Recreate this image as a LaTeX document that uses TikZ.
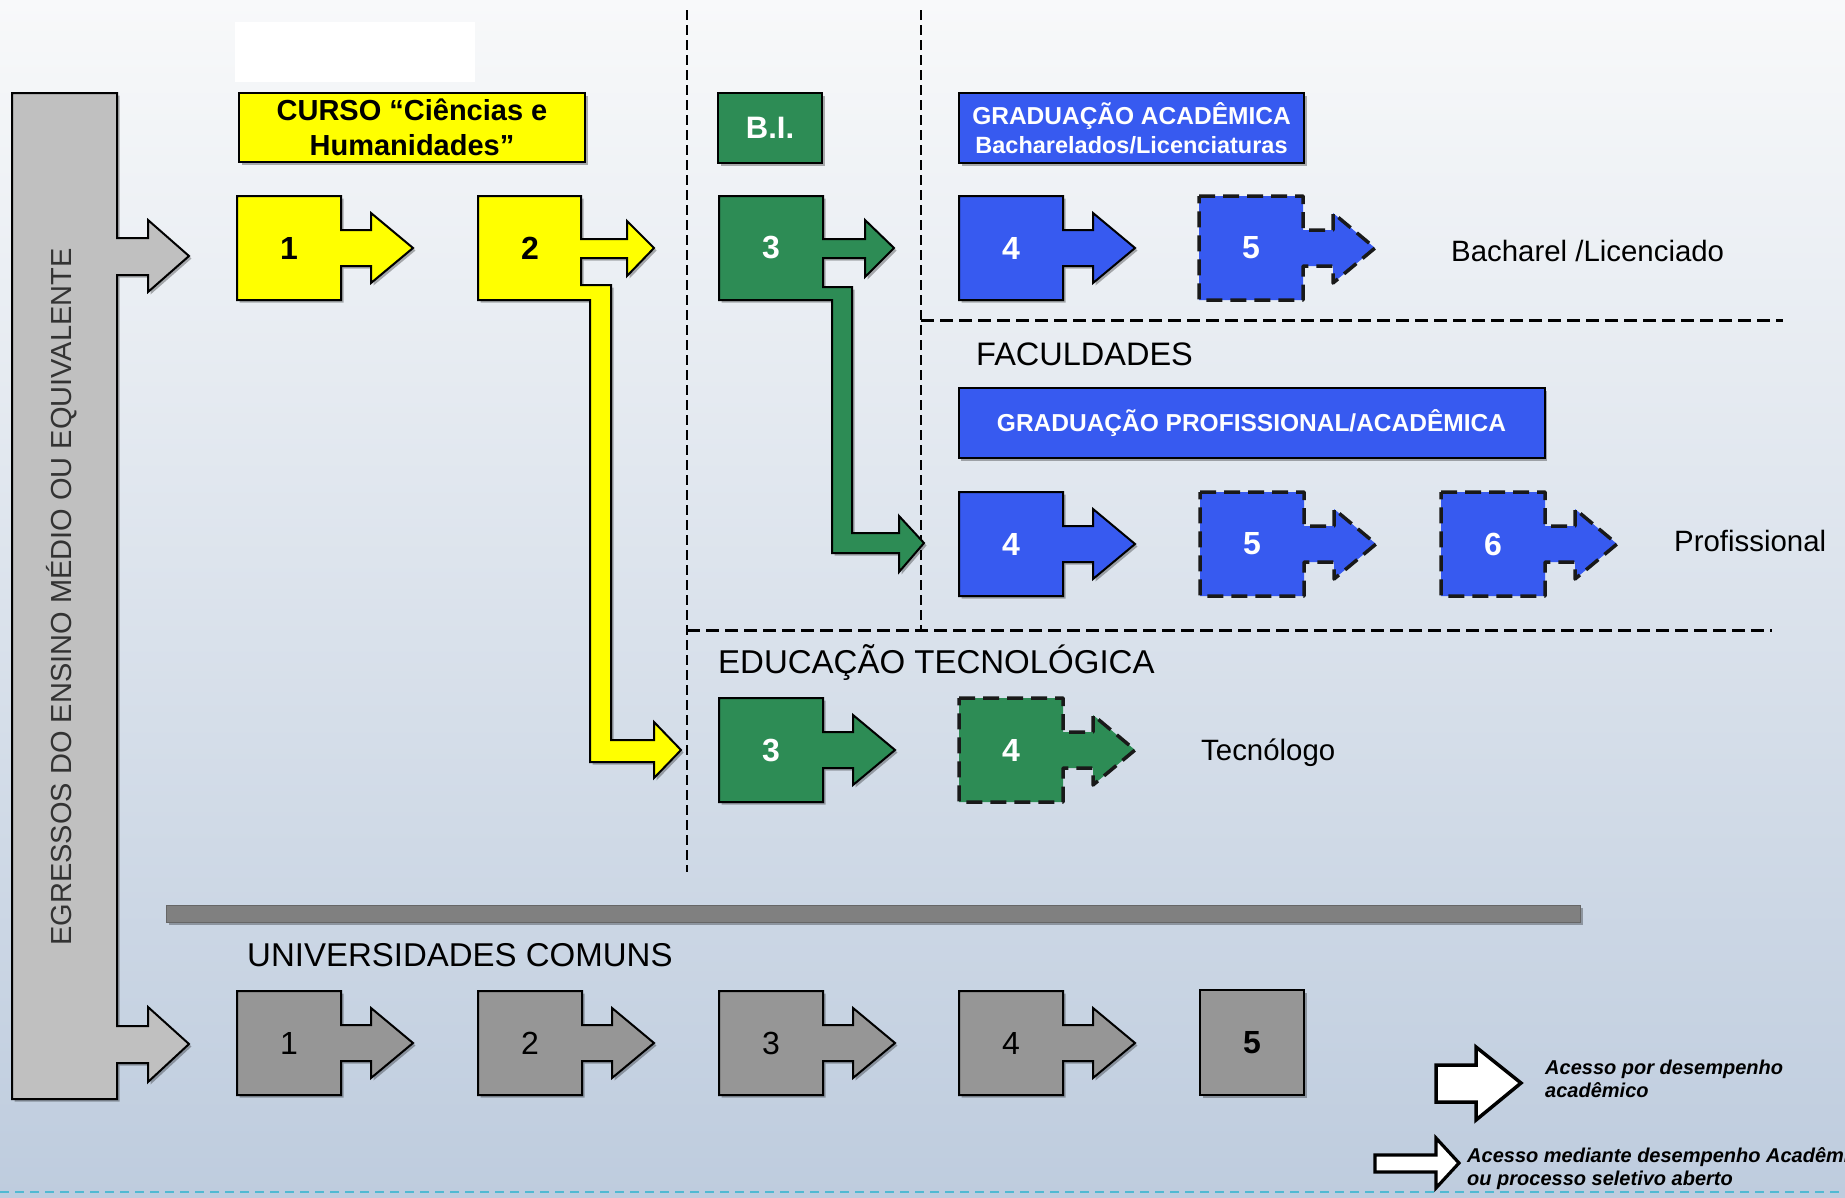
\documentclass[tikz,border=0pt]{standalone}
\usepackage{fontspec}
\setmainfont{Liberation Sans}
\usetikzlibrary{shadows}
\definecolor{ybox}{RGB}{255,255,0}
\definecolor{gbox}{RGB}{45,140,85}
\definecolor{bbox}{RGB}{55,90,240}
\definecolor{lgray}{RGB}{192,192,192}
\definecolor{dgray}{RGB}{150,150,150}
\definecolor{hbar}{RGB}{128,128,128}
\definecolor{bgtop}{RGB}{248,249,250}
\definecolor{bgmid}{RGB}{228,233,240}
\definecolor{bgbot}{RGB}{190,204,222}
\definecolor{cyanline}{RGB}{80,185,210}
\tikzset{
 outl/.style={draw=black, line width=2pt, line join=miter},
 shd/.style={drop shadow={shadow xshift=2.5pt, shadow yshift=-2.5pt, opacity=0.3, fill=black}},
 dsh/.style={draw=black!90, line width=3.5pt, dash pattern=on 16pt off 8pt, line join=round},
 sep/.style={draw=black, line width=2pt, dash pattern=on 10pt off 5pt},
 numb/.style={inner sep=0pt, font=\fontsize{32}{32}\selectfont\bfseries},
 numr/.style={inner sep=0pt, font=\fontsize{32}{32}\selectfont},
 lbl/.style={inner sep=0pt, anchor=base west, font=\fontsize{29.4}{35}\selectfont},
 ttl/.style={inner sep=0pt, anchor=base west, font=\fontsize{33}{40}\selectfont},
 hdr/.style={outl, shd, inner sep=0pt, align=center},
 leg/.style={inner sep=0pt, anchor=west, align=left, font=\fontsize{20}{23.5}\selectfont\bfseries\itshape},
 legarrow/.style={fill=white, draw=black, line width=3.5pt, line join=miter}
}
\newcommand{\sqarrow}[3]{%
 \path[#3] (#1,#2-52) -- ++(104,0) -- ++(0,34) -- ++(30,0) -- ++(0,-17) -- ++(42,35) -- ++(-42,35) -- ++(0,-17) -- ++(-30,0) -- ++(0,34) -- ++(-104,0) -- cycle;}
\begin{document}
\begin{tikzpicture}[x=1pt,y=-1pt]
\useasboundingbox (0,0) rectangle (1845,1197);
\shade[top color=bgtop, middle color=bgmid, bottom color=bgbot] (0,0) rectangle (1845,1197);
\begin{scope}
\clip (0,0) rectangle (1845,1197);
% white patch
\fill[white] (235,22) rectangle (475,82);
% separators
\draw[sep] (687,10) -- (687,872);
\draw[sep] (921,10) -- (921,629);
\draw[sep, line width=3pt, dash pattern=on 13pt off 6pt] (921,320) -- (1783,320);
\draw[sep, line width=3pt, dash pattern=on 13pt off 6pt] (687,630) -- (1772,630);
% left gray bar
\path[outl, shd, fill=lgray] (12,93) -- (117,93) -- (117,238) -- (148,238) -- (148,220) -- (189,256) -- (148,292) -- (148,275) -- (117,275) -- (117,1026) -- (148,1026) -- (148,1007) -- (189,1044) -- (148,1082) -- (148,1063) -- (117,1063) -- (117,1099) -- (12,1099) -- cycle;
\node[rotate=90, inner sep=0pt, text=black!80, font=\fontsize{29}{35}\selectfont] (egr) at (62,597) {EGRESSOS DO ENSINO MÉDIO OU EQUIVALENTE};
% header boxes
\node[hdr, fill=ybox, minimum width=346pt, minimum height=69pt, font=\fontsize{29}{35}\selectfont\bfseries] (curso) at (412,127.5) {CURSO “Ciências e\\Humanidades”};
\node[hdr, fill=gbox, text=white, minimum width=104pt, minimum height=70pt, font=\fontsize{31}{31}\selectfont\bfseries] (bi) at (770,128) {B.I.};
\node[hdr, fill=bbox, text=white, minimum width=345pt, minimum height=70pt, font=\fontsize{24.5}{29}\selectfont\bfseries] (gradac) at (1131.5,128) {GRADUAÇÃO ACADÊMICA\\{\fontsize{23.5}{29}\selectfont Bacharelados/Licenciaturas}};
\node[hdr, fill=bbox, text=white, minimum width=586pt, minimum height=70pt, font=\fontsize{24.5}{29}\selectfont\bfseries] (gradprof) at (1251.5,423) {GRADUAÇÃO PROFISSIONAL/ACADÊMICA};
% row 1
\sqarrow{237}{248}{outl, shd, fill=ybox}
\node[numb] (y1) at (289,248) {1};
\path[outl, shd, fill=ybox] (478,196) -- (581,196) -- (581,239) -- (627,239) -- (627,221) -- (654,248) -- (627,276) -- (627,258) -- (581,258) -- (581,285) -- (611,285) -- (611,740) -- (654,740) -- (654,722) -- (681,750) -- (654,778) -- (654,762) -- (590,762) -- (590,300) -- (478,300) -- cycle;
\node[numb] (y2) at (530,248) {2};
\path[outl, shd, fill=gbox] (719,196) -- (823,196) -- (823,239) -- (865,239) -- (865,220) -- (894,248) -- (865,277) -- (865,258) -- (823,258) -- (823,287) -- (852,287) -- (852,533) -- (899,533) -- (899,516) -- (924,543) -- (899,572) -- (899,553) -- (832,553) -- (832,300) -- (719,300) -- cycle;
\node[numb, text=white] (g3a) at (771,248) {3};
\sqarrow{959}{248}{outl, shd, fill=bbox}
\node[numb, text=white] (b4a) at (1011,248) {4};
\sqarrow{1199}{248}{dsh, fill=bbox}
\node[numb, text=white] (b5a) at (1251,248) {5};
\node[lbl] (bach) at (1451,261) {Bacharel /Licenciado};
% faculdades
\node[ttl, font=\fontsize{32.5}{40}\selectfont] (fac) at (976,365) {FACULDADES};
\sqarrow{959}{544}{outl, shd, fill=bbox}
\node[numb, text=white] (b4b) at (1011,544) {4};
\sqarrow{1200}{544}{dsh, fill=bbox}
\node[numb, text=white] (b5b) at (1252,544) {5};
\sqarrow{1441}{544}{dsh, fill=bbox}
\node[numb, text=white] (b6b) at (1493,544) {6};
\node[lbl] (prof) at (1674,551.5) {Profissional};
% educacao tecnologica
\node[ttl] (edu) at (718,673) {EDUCAÇÃO TECNOLÓGICA};
\sqarrow{719}{750}{outl, shd, fill=gbox}
\node[numb, text=white] (g3b) at (771,750) {3};
\sqarrow{959}{750}{dsh, fill=gbox}
\node[numb, text=white] (g4b) at (1011,750) {4};
\node[lbl] (tec) at (1201,760.5) {Tecnólogo};
% gray bar
\path[shd, fill=hbar, draw=black!60, line width=0.8pt] (166,905) rectangle (1580,922);
% universidades comuns
\node[ttl] (univ) at (247,966) {UNIVERSIDADES COMUNS};
\sqarrow{237}{1043}{outl, shd, fill=dgray}
\node[numr] (u1) at (289,1043) {1};
\sqarrow{478}{1043}{outl, shd, fill=dgray}
\node[numr] (u2) at (530,1043) {2};
\sqarrow{719}{1043}{outl, shd, fill=dgray}
\node[numr] (u3) at (771,1043) {3};
\sqarrow{959}{1043}{outl, shd, fill=dgray}
\node[numr] (u4) at (1011,1043) {4};
\path[outl, shd, fill=dgray] (1200,990) rectangle (1304,1095);
\node[numb] (u5) at (1252,1043) {5};
% legend
\path[legarrow] (1436,1065) -- (1476,1065) -- (1476,1047) -- (1521,1083) -- (1476,1120) -- (1476,1102) -- (1436,1102) -- cycle;
\node[leg] (leg1) at (1545,1079) {Acesso por desempenho\\acadêmico};
\path[legarrow, line width=3.2pt] (1375,1155) -- (1436,1155) -- (1436,1138) -- (1459,1163) -- (1436,1188) -- (1436,1172) -- (1375,1172) -- cycle;
\node[leg] (leg2) at (1467,1168.5) {Acesso mediante desempenho Acadêmico\\ou processo seletivo aberto};
% bottom dashed line
\draw[cyanline, line width=2pt, dash pattern=on 9pt off 6pt] (0,1192) -- (1845,1192);
\end{scope}
\end{tikzpicture}
\end{document}
